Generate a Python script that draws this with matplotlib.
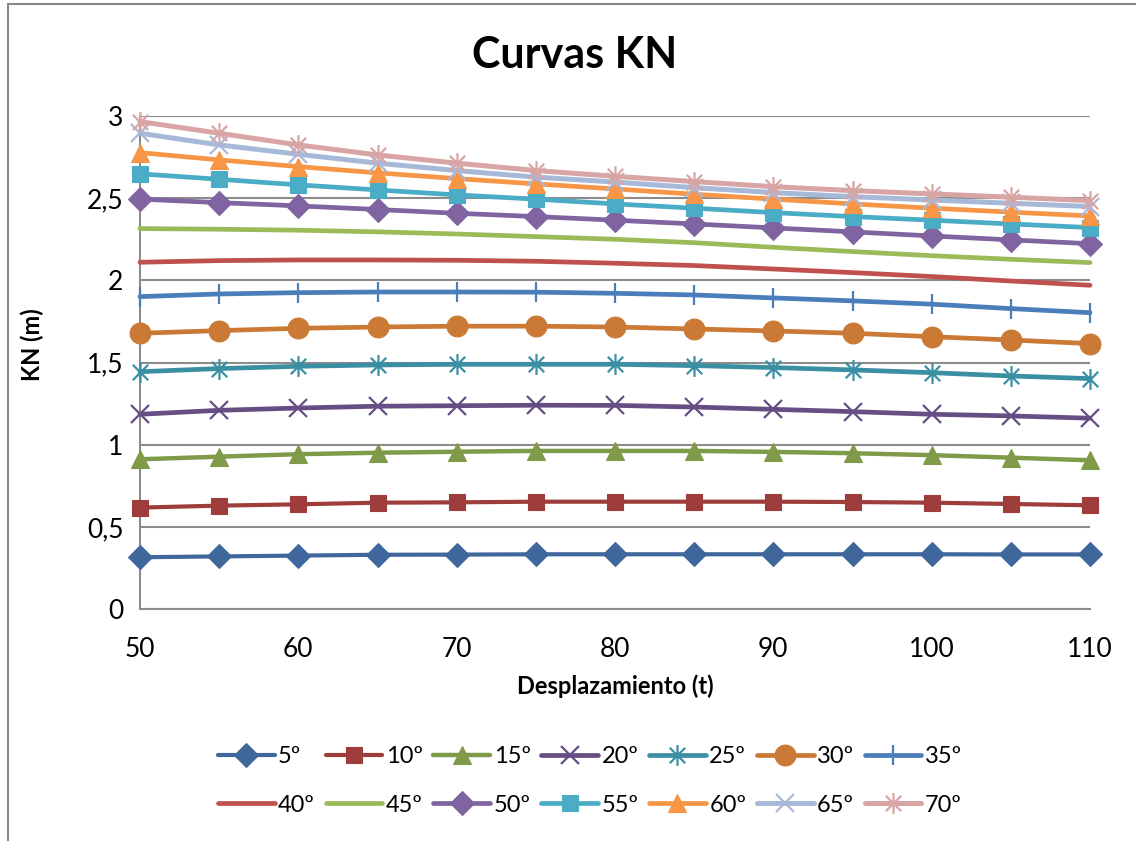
import matplotlib
matplotlib.use('Agg')
import matplotlib.pyplot as plt
from matplotlib.path import Path
from matplotlib.patches import Rectangle
from matplotlib.ticker import FuncFormatter, MultipleLocator

plt.rcParams['font.family'] = ['Lato', 'DejaVu Sans']

# ---------------- data ----------------
desplazamiento = [50, 55, 60, 65, 70, 75, 80, 85, 90, 95, 100, 105, 110]

kn_05 = [0.315, 0.320, 0.325, 0.330, 0.331, 0.333, 0.333, 0.333, 0.333, 0.333, 0.333, 0.332, 0.332]
kn_10 = [0.617, 0.629, 0.637, 0.647, 0.649, 0.653, 0.653, 0.653, 0.653, 0.651, 0.647, 0.639, 0.631]
kn_15 = [0.911, 0.927, 0.942, 0.951, 0.957, 0.962, 0.962, 0.962, 0.956, 0.948, 0.936, 0.921, 0.905]
kn_20 = [1.185, 1.209, 1.223, 1.234, 1.237, 1.240, 1.239, 1.229, 1.215, 1.201, 1.185, 1.175, 1.161]
kn_25 = [1.444, 1.463, 1.477, 1.485, 1.489, 1.489, 1.489, 1.481, 1.469, 1.455, 1.438, 1.418, 1.402]
kn_30 = [1.678, 1.694, 1.708, 1.716, 1.721, 1.721, 1.716, 1.704, 1.692, 1.678, 1.657, 1.637, 1.615]
kn_35 = [1.901, 1.917, 1.925, 1.929, 1.929, 1.928, 1.921, 1.911, 1.893, 1.875, 1.855, 1.828, 1.803]
kn_40 = [2.110, 2.120, 2.124, 2.124, 2.122, 2.116, 2.104, 2.090, 2.069, 2.047, 2.023, 1.996, 1.970]
kn_45 = [2.315, 2.311, 2.305, 2.295, 2.282, 2.266, 2.250, 2.229, 2.201, 2.175, 2.150, 2.128, 2.108]
kn_50 = [2.494, 2.473, 2.453, 2.431, 2.408, 2.388, 2.366, 2.343, 2.319, 2.295, 2.270, 2.246, 2.223]
kn_55 = [2.648, 2.615, 2.581, 2.550, 2.520, 2.494, 2.465, 2.439, 2.412, 2.388, 2.366, 2.343, 2.321]
kn_60 = [2.777, 2.733, 2.692, 2.654, 2.619, 2.587, 2.556, 2.524, 2.494, 2.465, 2.439, 2.415, 2.392]
kn_65 = [2.895, 2.824, 2.767, 2.713, 2.668, 2.628, 2.598, 2.564, 2.534, 2.509, 2.489, 2.469, 2.449]
kn_70 = [2.966, 2.895, 2.824, 2.763, 2.713, 2.668, 2.633, 2.601, 2.570, 2.546, 2.526, 2.506, 2.485]

series = [kn_05, kn_10, kn_15, kn_20, kn_25, kn_30, kn_35,
          kn_40, kn_45, kn_50, kn_55, kn_60, kn_65, kn_70]
labels = ['5º', '10º', '15º', '20º', '25º', '30º', '35º',
          '40º', '45º', '50º', '55º', '60º', '65º', '70º']

x_ticks = [50, 60, 70, 80, 90, 100, 110]

# ---------------- styles ----------------
asterisk = Path([(-1, -1), (1, 1), (-1, 1), (1, -1), (0, -1.35), (0, 1.35)],
                [Path.MOVETO, Path.LINETO, Path.MOVETO, Path.LINETO, Path.MOVETO, Path.LINETO])

colors = ['#3F679C', '#9E3D3B', '#7F9A48', '#664D84', '#3A8FA3', '#CB7A35', '#4A7EBB',
          '#C0504D', '#9BBB59', '#8064A2', '#4BACC6', '#F79646', '#A7B9D8', '#D9A5A4']
markers = ['D', 's', '^', 'x', asterisk, 'o', '|',
           None, None, 'D', 's', '^', 'x', asterisk]
msizes = [12, 12, 13, 13, 15, 15, 15, 0, 0, 12, 12, 13, 13, 15]
lws = [3.0, 3.0, 3.2, 3.4, 3.4, 3.4, 3.4, 3.4, 3.4, 3.4, 3.4, 3.4, 3.6, 3.6]

fig = plt.figure(figsize=(11.36, 8.41), dpi=100)
fig.patch.set_facecolor('white')

ax = fig.add_axes([140 / 1136, 1 - 609 / 841, (1090 - 140) / 1136, (609 - 116) / 841])

handles = []
for i, (vals, lab) in enumerate(zip(series, labels)):
    m = markers[i]
    kw = dict(color=colors[i], lw=lws[i], label=lab, solid_capstyle='round',
              solid_joinstyle='round', clip_on=False, zorder=3 + i)
    if m is not None:
        kw.update(marker=m, markersize=msizes[i], markerfacecolor=colors[i],
                  markeredgecolor=colors[i])
        if m in ('x', '|') or isinstance(m, Path):
            kw.update(markeredgewidth=1.6)
        else:
            kw.update(markeredgewidth=0.8)
    h, = ax.plot(desplazamiento, vals, **kw)
    handles.append(h)

ax.set_xlim(50, 110)
ax.set_ylim(0, 3)
ax.set_xticks(x_ticks)
ax.yaxis.set_major_locator(MultipleLocator(0.5))
ax.yaxis.set_major_formatter(FuncFormatter(lambda v, p: ('%g' % v).replace('.', ',')))
ax.tick_params(axis='both', length=0, labelsize=19, colors='black')
ax.tick_params(axis='x', pad=20)
ax.tick_params(axis='y', pad=12)

ax.grid(axis='y', color='#8C8C8C', lw=1.5)
ax.set_axisbelow(True)
for s in ['top', 'right']:
    ax.spines[s].set_visible(False)
for s in ['left', 'bottom']:
    ax.spines[s].set_color('#8C8C8C')
    ax.spines[s].set_linewidth(1.5)

ax.set_xlabel('Desplazamiento (t)', fontsize=17, fontweight='bold')
ax.set_ylabel('KN (m)', fontsize=17, fontweight='bold')
ax.xaxis.set_label_coords((615 - 140) / 950, -(686 - 609) / 493)
ax.yaxis.set_label_coords(-(140 - 32) / 950, (609 - 345) / 493)
ax.xaxis.label.set_va('center')
ax.yaxis.label.set_va('center')

fig.text(575 / 1136, 1 - 55 / 841, 'Curvas KN', fontsize=31, fontweight='bold',
         ha='center', va='center')

# Legend (row-major order)
order = []
for c in range(7):
    order += [c, c + 7]
fig.legend([handles[k] for k in order], [labels[k] for k in order], ncol=7,
           loc='center', bbox_to_anchor=(590 / 1136, 1 - 781 / 841), frameon=False,
           fontsize=17, handlelength=2.4, handletextpad=0.15, columnspacing=0.45,
           labelspacing=1.15)

# Outer chart border
fig.patches.append(Rectangle((8 / 1136, -0.5), 2, 1.5 - 4 / 841, transform=fig.transFigure,
                             fill=False, edgecolor='#888888', lw=1.5, zorder=0))

fig.savefig('out.png', dpi=100)
